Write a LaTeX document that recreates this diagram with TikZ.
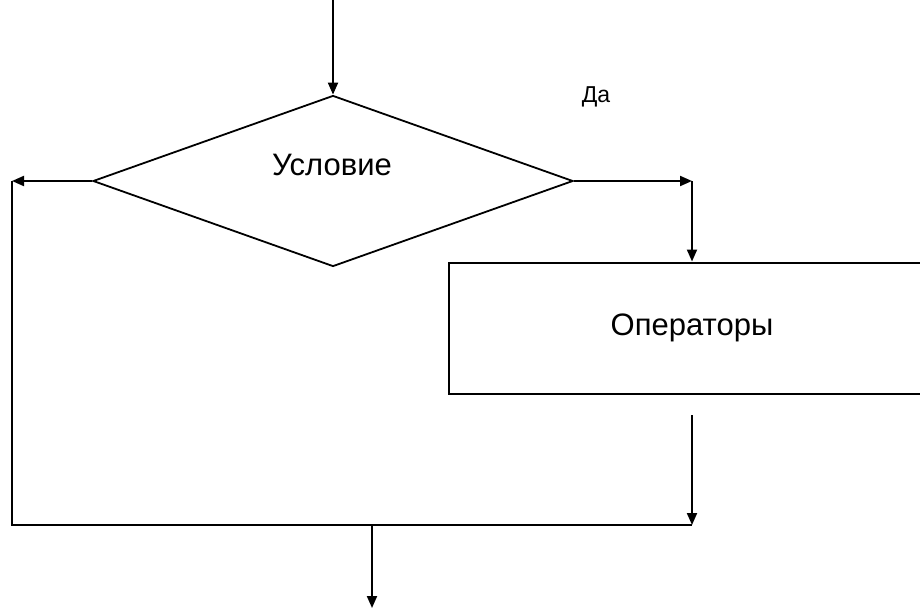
\documentclass[tikz,border=0pt]{standalone}
\usepackage{fontspec}
\setmainfont{Liberation Sans}
\usetikzlibrary{arrows.meta, shapes.geometric, positioning}

\tikzset{
  line/.style={line width=2pt},
  flow/.style={line, -{Triangle[length=12pt,width=10pt]}},
  cond/.style={diamond, draw, line width=1.8pt, minimum width=480pt, minimum height=171pt, aspect=2.8, inner sep=0pt},
  block/.style={rectangle, draw, line width=2pt, minimum width=486pt, minimum height=131pt, inner sep=0pt}
}

\begin{document}
\begin{tikzpicture}[x=1pt, y=-1pt]

            % Khung hình
            \clip (0,0) rectangle (920,610);

            % Vẽ khối điều kiện
            \node[cond] (usl) at (333,181) {};
            \node[font=\fontsize{31}{36}\selectfont] (usltxt) at (332,165) {Условие};

            % Vẽ khối toán tử
            \node[block, font=\fontsize{31}{36}\selectfont] (ops) at (692,328) {Операторы};

            % Nhãn
            \node[font=\fontsize{23}{27}\selectfont] (da) at (596,97) {Да};

            % Các điểm phụ
            \coordinate (vao) at (333,0);
            \coordinate (trai) at (12,181);
            \coordinate (phai) at (692,181);
            \coordinate (traiduoi) at (12,525);
            \coordinate (phaiduoi) at (692,525);
            \coordinate (rarect) at (692,415);
            \coordinate (noi) at (372,525);
            \coordinate (ra) at (372,608);

            % Vẽ các mũi tên
            \draw[flow] (vao) -- (usl.north);
            \draw[flow] (usl.west) -- (trai);
            \draw[flow] (usl.east) -- (phai);
            \draw[flow] (phai) -- (ops.north);
            \draw[line] (trai) -- (traiduoi) -- (phaiduoi);
            \draw[flow] (rarect) -- (phaiduoi);
            \draw[flow] (noi) -- (ra);

\end{tikzpicture}
\end{document}
